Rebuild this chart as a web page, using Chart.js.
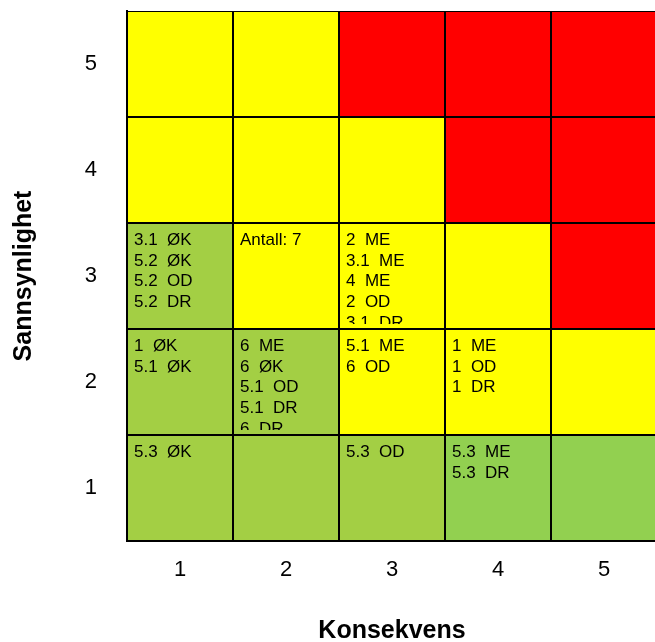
<!DOCTYPE html>
<html>
<head>
<meta charset="utf-8">
<script src="https://cdn.jsdelivr.net/npm/chart.js@4.4.1/dist/chart.umd.min.js"></script>
<style>
    html, body { margin: 0; padding: 0; background: #fff; overflow: hidden; }
    #wrap { width: 660px; height: 642px; }
</style>
</head>
<body>
<div id="wrap"><canvas id="risikoChart"></canvas></div>
<script>
// Akser
const konsekvens = ['1', '2', '3', '4', '5'];
const sannsynlighet = [1, 2, 3, 4, 5];

// Farge per celle, rad = sannsynlighet 1..5, kolonne = konsekvens 1..5
const G = '#A3CF44', L = '#92D050', Y = '#FFFF00', R = '#FF0000';
const farger = [
    [G, G, G, L, L],
    [G, G, Y, Y, Y],
    [G, Y, Y, Y, R],
    [Y, Y, Y, R, R],
    [Y, Y, R, R, R]
];

// Tekst i cellene
const tekster = [
    [['5.3  ØK'], [], ['5.3  OD'], ['5.3  ME', '5.3  DR'], []],
    [['1  ØK', '5.1  ØK'], ['6  ME', '6  ØK', '5.1  OD', '5.1  DR', '6  DR'], ['5.1  ME', '6  OD'], ['1  ME', '1  OD', '1  DR'], []],
    [['3.1  ØK', '5.2  ØK', '5.2  OD', '5.2  DR'], ['Antall: 7'], ['2  ME', '3.1  ME', '4  ME', '2  OD', '3.1  DR'], [], []],
    [[], [], [], [], []],
    [[], [], [], [], []]
];

const fontFamily = '"Liberation Sans", Arial, sans-serif';

const datasets = sannsynlighet.map((s, i) => ({
    label: 'Sannsynlighet ' + s,
    data: konsekvens.map(() => [s - 0.5, s + 0.5]),
    backgroundColor: farger[i],
    borderColor: '#000',
    borderWidth: 1,
    borderSkipped: false,
    barPercentage: 1,
    categoryPercentage: 1,
    grouped: false,
    inflateAmount: 0
}));

// Tegner teksten øverst til venstre i hver celle
const celleTekst = {
    id: 'celleTekst',
    afterDatasetsDraw(chart) {
        const ctx = chart.ctx;
        chart.data.datasets.forEach((ds, i) => {
            const meta = chart.getDatasetMeta(i);
            meta.data.forEach((bar, j) => {
                const linjer = tekster[i][j];
                if (!linjer || !linjer.length) return;
                const left = bar.x - bar.width / 2;
                const top = Math.min(bar.y, bar.base);
                const bottom = Math.max(bar.y, bar.base);
                ctx.save();
                ctx.beginPath();
                ctx.rect(left + 1, top + 1, bar.width - 2, bottom - top - 6);
                ctx.clip();
                ctx.fillStyle = '#000';
                ctx.font = '17px ' + fontFamily;
                ctx.textBaseline = 'alphabetic';
                ctx.textAlign = 'left';
                linjer.forEach((t, k) => {
                    ctx.fillText(t, left + 7, top + 22 + k * 20.7);
                });
                ctx.restore();
            });
        });
    }
};

new Chart(document.getElementById('risikoChart').getContext('2d'), {
    type: 'bar',
    data: { labels: konsekvens, datasets: datasets },
    options: {
        responsive: true,
        maintainAspectRatio: false,
        animation: false,
        layout: { padding: { left: 0, top: 11, right: 3, bottom: 0 } },
        plugins: {
            legend: { display: false },
            tooltip: { enabled: false }
        },
        scales: {
            x: {
                type: 'category',
                grid: { display: false, drawTicks: false },
                border: { display: true, color: '#000', width: 2 },
                ticks: { color: '#000', padding: 16, font: { family: fontFamily, size: 22 } },
                title: {
                    display: true,
                    text: 'Konsekvens',
                    color: '#000',
                    padding: { top: 0, bottom: -2 },
                    font: { family: fontFamily, size: 25, weight: 'bold', lineHeight: 1 }
                },
                afterFit(scale) {
                    scale.height = 101;
                    scale.paddingLeft = 0;
                    scale.paddingRight = 0;
                }
            },
            y: {
                type: 'linear',
                min: 0.5,
                max: 5.5,
                grid: { display: false, drawTicks: false },
                border: { display: true, color: '#000', width: 2 },
                ticks: { color: '#000', padding: 30, font: { family: fontFamily, size: 22 } },
                afterBuildTicks(scale) {
                    scale.ticks = sannsynlighet.map(v => ({ value: v }));
                },
                title: {
                    display: true,
                    text: 'Sannsynlighet',
                    color: '#000',
                    padding: { top: 12, bottom: 0 },
                    font: { family: fontFamily, size: 25, weight: 'bold', lineHeight: 1 }
                },
                afterFit(scale) {
                    scale.width = 127;
                    scale.paddingTop = 0;
                    scale.paddingBottom = 0;
                }
            }
        }
    },
    plugins: [celleTekst]
});
</script>
</body>
</html>
